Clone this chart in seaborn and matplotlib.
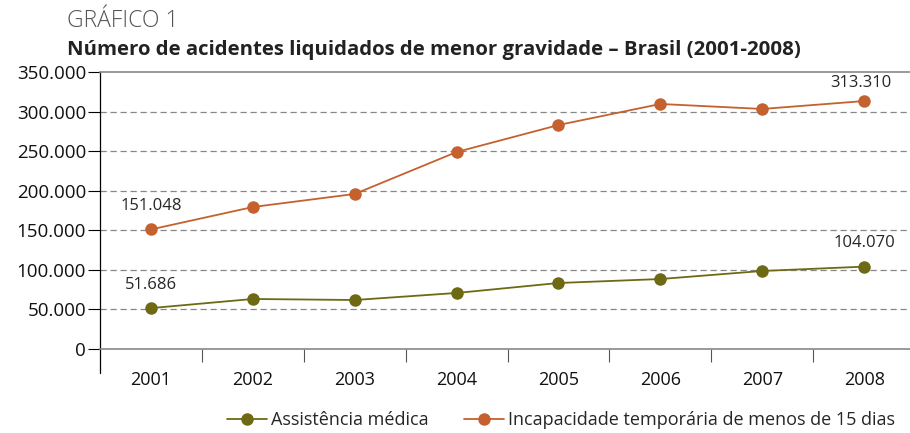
import numpy as np
import pandas as pd
import matplotlib
matplotlib.use("Agg")
import matplotlib.pyplot as plt
from matplotlib.ticker import FuncFormatter, FixedLocator
import seaborn as sns

years = ["2001", "2002", "2003", "2004", "2005", "2006", "2007", "2008"]
assistencia = [51686, 63200, 61900, 70800, 83400, 88400, 98600, 104070]
incapacidade = [151048, 179400, 195900, 248900, 283000, 309600, 303300, 313310]
series_names = ["Assistência médica", "Incapacidade temporária de menos de 15 dias"]
colors = {series_names[0]: "#6E6A14", series_names[1]: "#C4612F"}

df = pd.DataFrame({
    "Ano": list(range(len(years))) * 2,
    "Valor": assistencia + incapacidade,
    "Serie": [series_names[0]] * len(years) + [series_names[1]] * len(years),
})

sns.set_theme(style="white")
plt.rcParams['font.family'] = ['Open Sans', 'DejaVu Sans']

fig = plt.figure(figsize=(9.1, 4.33), dpi=100)
ax = fig.add_axes([100 / 910, 84 / 433, 810 / 910, 277 / 433])

sns.lineplot(data=df, x="Ano", y="Valor", hue="Serie", palette=colors,
             marker="o", markersize=9, markeredgewidth=0, linewidth=1.3, ax=ax)

ax.set_xlim(-0.5, 7.45)
ax.set_ylim(0, 350000)
ax.set_xlabel("")
ax.set_ylabel("")

# y axis
ax.set_yticks(np.arange(0, 350001, 50000))
ax.yaxis.set_major_formatter(FuncFormatter(lambda v, p: f"{int(v):,}".replace(",", ".")))
ax.tick_params(axis="y", direction="out", length=9, width=0.8, color="black",
               labelsize=13.5, pad=1, left=True, labelcolor="#111111")
for v in range(50000, 350000, 50000):
    ax.axhline(v, color="#888888", linestyle=(0, (5, 3)), linewidth=0.9, zorder=0)

# x axis
ax.set_xticks(range(len(years)))
ax.set_xticklabels(years)
ax.xaxis.set_minor_locator(FixedLocator(np.arange(0.5, 7, 1)))
ax.tick_params(axis="x", which="major", length=0, labelsize=13, pad=16,
               labelcolor="#111111")
ax.tick_params(axis="x", which="minor", direction="out", length=9, width=0.8,
               color="#555555", bottom=True)

for side in ["top", "bottom"]:
    ax.spines[side].set_color("#888888")
    ax.spines[side].set_linewidth(1.2)
ax.spines["right"].set_visible(False)
ax.spines["left"].set_color("black")
ax.spines["left"].set_linewidth(0.9)
ax.plot([0, 0], [0, -0.085], transform=ax.transAxes, color="black",
        linewidth=0.9, clip_on=False)

# value labels
def fmt(v):
    return f"{v:,}".replace(",", ".")

ax.annotate(fmt(incapacidade[0]), (0, incapacidade[0]),
            xytext=(0, 14), textcoords="offset points", ha="center", fontsize=12)
ax.annotate(fmt(assistencia[0]), (0, assistencia[0]),
            xytext=(0, 14), textcoords="offset points", ha="center", fontsize=12)
ax.annotate(fmt(incapacidade[-1]), (7, incapacidade[-1]),
            xytext=(-2, 10), textcoords="offset points", ha="center", fontsize=12)
ax.annotate(fmt(assistencia[-1]), (7, assistencia[-1]),
            xytext=(0, 14), textcoords="offset points", ha="center", fontsize=12)

leg = ax.legend(loc="lower right", bbox_to_anchor=(0.99, -0.315), ncol=2, frameon=False,
                fontsize=13, handlelength=2.2, handletextpad=0.2, columnspacing=2.0,
                borderaxespad=0)

fig.text(67 / 910, 1 - 21 / 433, "GRÁFICO 1", fontsize=16.5, color="#555555",
         fontweight="light", va="center")
fig.text(67 / 910, 1 - 50 / 433,
         "Número de acidentes liquidados de menor gravidade – Brasil (2001-2008)",
         fontsize=14.7, fontweight="bold", color="#222222", va="center")

fig.savefig("out.png", dpi=100)
